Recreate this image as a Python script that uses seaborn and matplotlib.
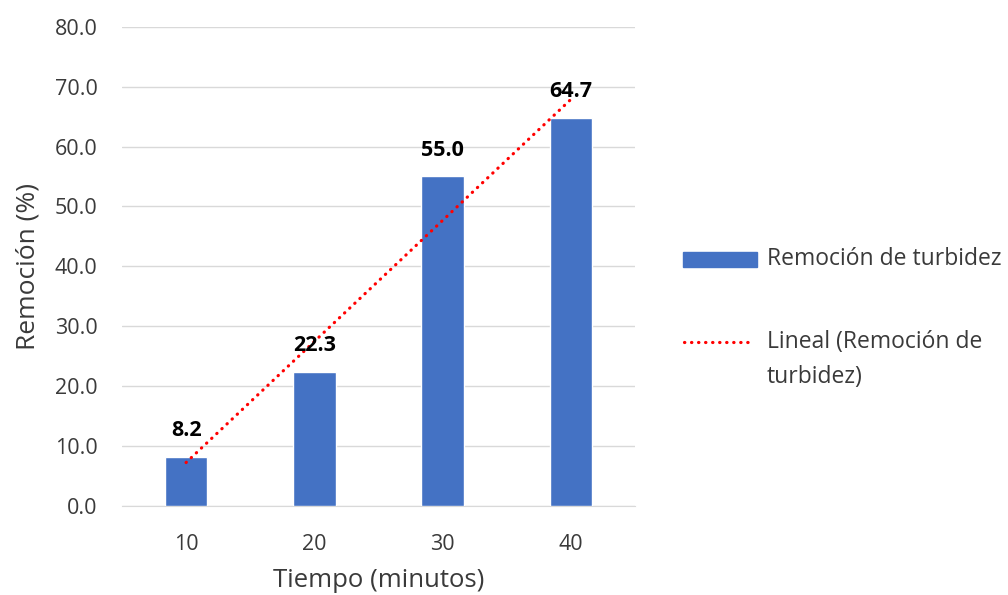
import matplotlib.pyplot as plt
from matplotlib.patches import Rectangle
from matplotlib.lines import Line2D
import seaborn as sns
import numpy as np
import pandas as pd

# turbidity removal vs. contact time, bars + excel style linear trendline
tiempos = ['10', '20', '30', '40']
remocion = [8.2, 22.3, 55.0, 64.7]
yticks = [0, 10, 20, 30, 40, 50, 60, 70, 80]

sns.set_style('white')
plt.rcParams['font.family'] = ['Open Sans', 'DejaVu Sans']
txt = '#3A3A3A'

df = pd.DataFrame({'Tiempo': tiempos, 'Remocion': remocion})

fig = plt.figure(figsize=(10.08, 5.95), dpi=100)
ax = fig.add_axes([0.121, 0.150, 0.509, 0.805])

sns.barplot(data=df, x='Tiempo', y='Remocion', color='#4472C4', width=0.33,
            saturation=1, ax=ax, zorder=3)

# linear trend (excel uses 1..n as x for category axes)
idx = np.arange(1, len(remocion) + 1)
m, b = np.polyfit(idx, remocion, 1)
pos = np.arange(len(remocion))
ax.plot(pos, m * idx + b, color='#FF0000', lw=2.3, linestyle=(0, (0.1, 2.1)),
        dash_capstyle='round', zorder=4)

for p, v in zip(pos, remocion):
    ax.annotate(f'{v:.1f}', (p, v), xytext=(0, 19), textcoords='offset points',
                ha='center', va='center', fontsize=15.5, fontweight='bold',
                color='black', zorder=5)

ax.set_ylim(0, 80)
ax.set_xlim(-0.5, 3.5)
ax.set_yticks(yticks)
ax.set_yticklabels([f'{t:.1f}' for t in yticks])
ax.yaxis.grid(True, color='#D9D9D9', lw=1)
ax.set_axisbelow(True)
for s in ['top', 'right', 'left']:
    ax.spines[s].set_visible(False)
ax.spines['bottom'].set_color('#D9D9D9')
ax.tick_params(axis='both', length=0, labelsize=15.5, colors=txt)
ax.tick_params(axis='x', pad=20)
ax.tick_params(axis='y', pad=17.5)
ax.set_xlabel('Tiempo (minutos)', fontsize=18.5, color=txt, labelpad=10)
ax.set_ylabel('Remoción (%)', fontsize=19, color=txt, labelpad=10)

# legend drawn by hand so the dotted handle sits on the first text line
fig.patches.append(Rectangle((683 / 1008, 1 - 267 / 595), 74 / 1008, 15 / 595,
                             transform=fig.transFigure, color='#4472C4'))
fig.text(767 / 1008, 1 - 259 / 595, 'Remoción de turbidez', fontsize=16.5,
         color=txt, va='center')
fig.lines.append(Line2D([684 / 1008, 749 / 1008], [1 - 342 / 595, 1 - 342 / 595],
                        transform=fig.transFigure, color='#FF0000', lw=2.3,
                        linestyle=(0, (0.1, 2.1)), dash_capstyle='round'))
fig.text(767 / 1008, 1 - 342 / 595, 'Lineal (Remoción de', fontsize=16.5,
         color=txt, va='center')
fig.text(767 / 1008, 1 - 377 / 595, 'turbidez)', fontsize=16.5,
         color=txt, va='center')

plt.savefig('out.png', dpi=100)
